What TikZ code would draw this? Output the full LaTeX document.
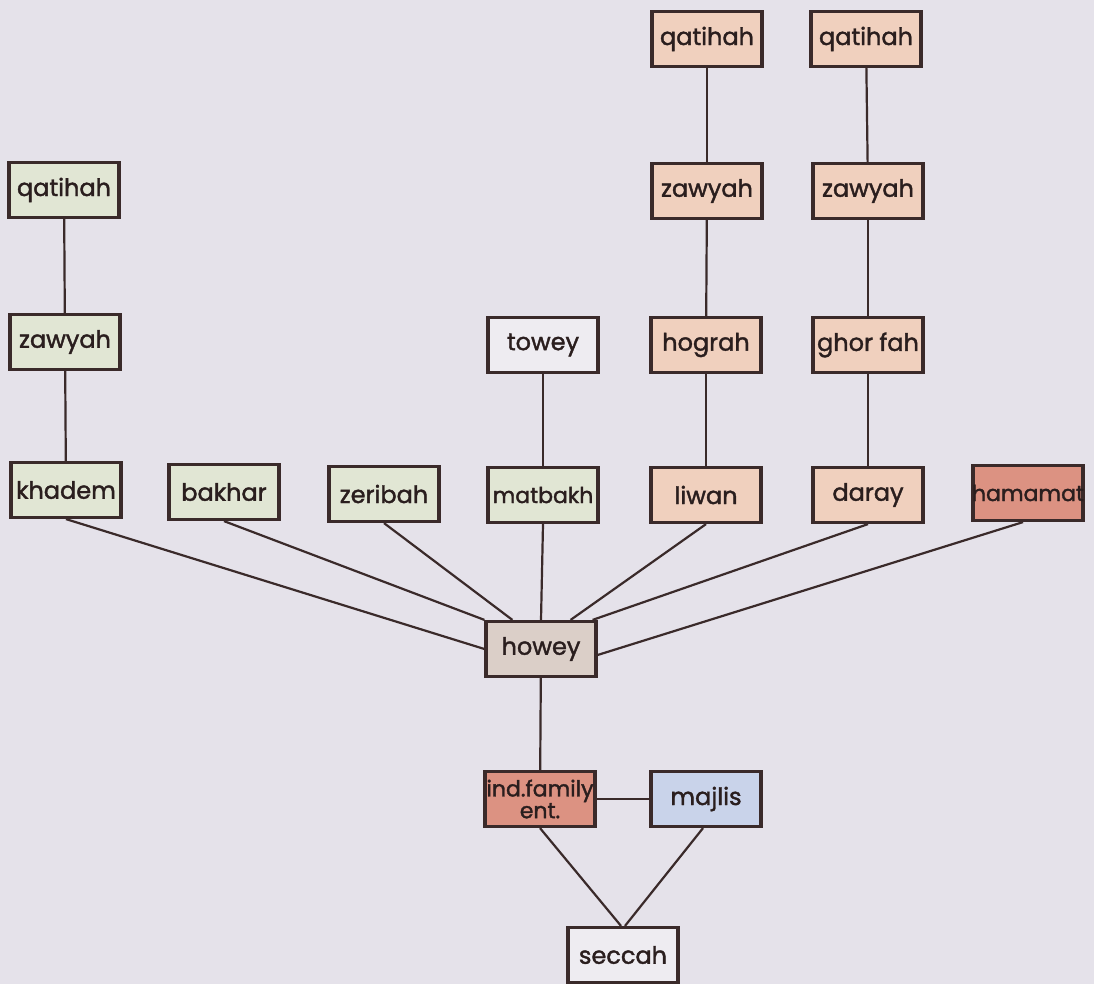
\documentclass[tikz,border=0pt]{standalone}
\usepackage{fontspec}
\setmainfont{Poppins}[FakeBold=1.6]
\definecolor{bgc}{HTML}{E5E2EA}
\definecolor{edge}{HTML}{3A2A2A}
\definecolor{txt}{HTML}{2A1E1E}
\definecolor{fgreen}{HTML}{E1E6D4}
\definecolor{forange}{HTML}{F0D0BE}
\definecolor{fred}{HTML}{DC9282}
\definecolor{fblue}{HTML}{C9D3EA}
\definecolor{fbeige}{HTML}{DBCFC8}
\definecolor{fwhite}{HTML}{EEECF1}
\tikzset{
  box/.style={draw=edge, line width=3.2pt, minimum width=110pt, minimum height=55pt,
    inner sep=0pt, text=txt, font=\fontsize{24}{22}\selectfont},
  gbox/.style={box, fill=fgreen},
  obox/.style={box, fill=forange},
  rbox/.style={box, fill=fred},
  bbox/.style={box, fill=fblue},
  hbox/.style={box, fill=fbeige},
  wbox/.style={box, fill=fwhite},
  tight/.style={font=\fontsize{22}{22}\selectfont},
  conn/.style={draw=edge, line width=2.2pt}
}
\begin{document}
\begin{tikzpicture}[x=1pt,y=-1pt]
\fill[bgc] (0,0) rectangle (1094,984);
\useasboundingbox (0,0) rectangle (1094,984);
% left column
\node[gbox] (qL) at (64,190) {\makebox[0pt]{qatihah}};
\node[gbox] (zL) at (65,342) {\makebox[0pt]{zawyah}};
\node[gbox] (khadem) at (66,490) {\makebox[0pt]{khadem}};
\node[gbox] (bakhar) at (224,492) {\makebox[0pt]{bakhar}};
\node[gbox] (zeribah) at (384,494) {\makebox[0pt]{zeribah}};
\node[gbox, tight] (matbakh) at (543,495) {\makebox[0pt]{matbakh}};
\node[wbox] (towey) at (543,345) {\makebox[0pt]{towey}};
% middle column
\node[obox] (qM) at (707,39) {\makebox[0pt]{qatihah}};
\node[obox] (zM) at (707,191) {\makebox[0pt]{zawyah}};
\node[obox] (hograh) at (706,345) {\makebox[0pt]{hograh}};
\node[obox] (liwan) at (706,495) {\makebox[0pt]{liwan}};
% right column
\node[obox] (qR) at (866,39) {\makebox[0pt]{qatihah}};
\node[obox] (zR) at (868,191) {\makebox[0pt]{zawyah}};
\node[obox] (ghorfah) at (868,345) {\makebox[0pt]{ghor fah}};
\node[obox] (daray) at (868,495) {\makebox[0pt]{daray}};
\node[rbox, tight] (hamamat) at (1028,493) {\makebox[0pt]{hamamat}};
% lower part
\node[hbox] (howey) at (541,649) {\makebox[0pt]{howey}};
\node[rbox, align=center, font=\fontsize{22}{19}\selectfont] (ind) at (540,799) {\makebox[0pt]{ind.family}\\\makebox[0pt]{ent.}};
\node[bbox] (majlis) at (706,799) {\makebox[0pt]{majlis}};
\node[wbox] (seccah) at (623,955) {\makebox[0pt]{seccah}};
% connectors
\draw[conn] (qL) -- (zL);
\draw[conn] (zL) -- (khadem);
\draw[conn] (towey) -- (matbakh);
\draw[conn] (qM) -- (zM);
\draw[conn] (zM) -- (hograh);
\draw[conn] (hograh) -- (liwan);
\draw[conn] (qR) -- (zR);
\draw[conn] (zR) -- (ghorfah);
\draw[conn] (ghorfah) -- (daray);
\draw[conn] (khadem.south) -- (howey.west);
\draw[conn] (bakhar.south) -- (howey.north west);
\draw[conn] (zeribah.south) -- ([xshift=28pt]howey.north west);
\draw[conn] (matbakh.south) -- (howey.north);
\draw[conn] (liwan.south) -- ([xshift=-27pt]howey.north east);
\draw[conn] (daray.south) -- ([xshift=-5pt]howey.north east);
\draw[conn] ([xshift=-5pt]hamamat.south) -- ([yshift=-6pt]howey.east);
\draw[conn] (howey) -- (ind);
\draw[conn] (ind) -- (majlis);
\draw[conn] (ind.south) -- ([xshift=-2pt]seccah.north);
\draw[conn] ([xshift=-3pt]majlis.south) -- ([xshift=2pt]seccah.north);
\end{tikzpicture}
\end{document}
